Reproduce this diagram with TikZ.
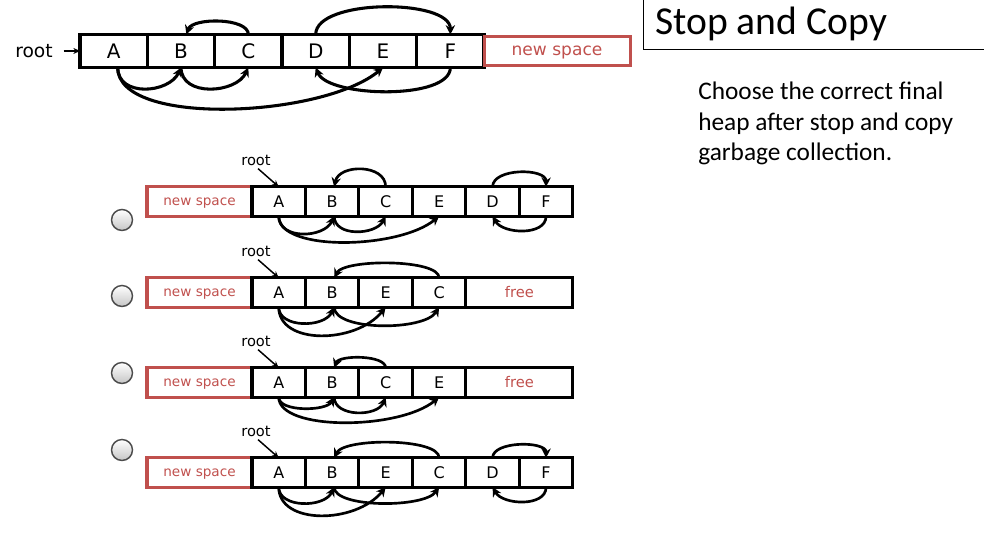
\documentclass[tikz,border=0pt]{standalone}
\usepackage{fontspec}
\setmainfont{Carlito}
\newfontfamily\cellfont{DejaVu Sans}
\usepackage{xcolor}
\usepackage{tikz}
\usetikzlibrary{shapes,arrows,arrows.meta,positioning,calc}
\definecolor{spacered}{RGB}{192,80,77}

\begin{document}
\begin{tikzpicture}[
    x=0.75pt, y=0.75pt,
    cell/.style={rectangle, draw, line width=2.3pt, outer sep=0pt, inner sep=0pt, minimum width=40.1pt, minimum height=22pt, font=\cellfont\fontsize{12}{14}\selectfont},
    bigcell/.style={cell, line width=2.6pt, minimum width=50.5pt, minimum height=24.75pt, font=\cellfont\fontsize{15}{17}\selectfont},
    spare/.style={cell, draw=spacered, text=spacered, text depth=0pt, minimum width=78.75pt, font=\cellfont\fontsize{10.2}{12}\selectfont},
    freecell/.style={cell, text=spacered, minimum width=80.2pt, font=\cellfont\fontsize{11}{13}\selectfont},
    ptr/.style={-{Stealth[length=7pt, width=7pt]}, line width=2pt},
    bigptr/.style={ptr, line width=2.3pt},
    rootlbl/.style={inner sep=1pt, font=\cellfont\fontsize{11}{13}\selectfont},
    rootptr/.style={-{Stealth[length=5pt, width=4.5pt]}, line width=1.1pt, shorten <=2pt},
    radio/.style={circle, draw=gray!60!black, line width=1.1pt, minimum size=15.75pt, top color=white, bottom color=gray!45}
]
    \useasboundingbox (0,0) rectangle (984,545);

    % Title and question
    \draw[line width=0.75pt] (643,545) -- (643,495) -- (984,495);
    \node[anchor=base west, inner sep=0pt, font=\fontsize{29.7}{34}\selectfont] (title) at (655,510) {Stop and Copy};
    \node[anchor=base west, inner sep=0pt, align=left, font=\fontsize{19}{22.9}\selectfont] (task) at (698,384) {
        Choose the correct final\\
        heap after stop and copy\\
        garbage collection.
    };

    % Heap before collection
    \node[bigcell] (heapA) at (113.7,494) {A};
    \node[bigcell, right=0pt of heapA] (heapB) {B};
    \node[bigcell, right=0pt of heapB] (heapC) {C};
    \node[bigcell, right=0pt of heapC] (heapD) {D};
    \node[bigcell, right=0pt of heapD] (heapE) {E};
    \node[bigcell, right=0pt of heapE] (heapF) {F};
    \node[bigcell, spare, minimum width=109.5pt, font=\cellfont\fontsize{12.8}{15}\selectfont, right=0pt of heapF] (heapNew) {new space};
    \node[rootlbl, font=\cellfont\fontsize{14}{16}\selectfont] (heaproot) at (34,494) {root};
    \draw[rootptr, shorten <=7pt, line width=1.3pt] (heaproot.east) -- (heapA.west);

    \draw[bigptr] (heapC.north) .. controls +(0,17) and +(6,17) .. ([xshift=4pt]heapB.north);
    \draw[bigptr] (heapD.north) .. controls +(0,36) and +(0,36) .. (heapF.north);
    \draw[bigptr] ([xshift=3pt]heapA.south) .. controls +(0,-30) and +(-12,-26) .. (heapB.south);
    \draw[bigptr] (heapB.south) .. controls +(0,-30) and +(-12,-26) .. (heapC.south);
    \draw[bigptr] ([xshift=3pt]heapA.south) .. controls +(0,-60) and +(-60,-50) .. (heapE.south);
    \draw[bigptr] (heapF.south) .. controls +(0,-33) and +(12,-30) .. (heapD.south);

    % Option 1
    \node[radio] (pick1) at (122,325) {};
    \node[spare] (o1New) at (199.5,343.5) {new space};
    \node[cell, right=0pt of o1New] (o1A) {A};
    \node[cell, right=0pt of o1A] (o1B) {B};
    \node[cell, right=0pt of o1B] (o1C) {C};
    \node[cell, right=0pt of o1C] (o1E) {E};
    \node[cell, right=0pt of o1E] (o1D) {D};
    \node[cell, right=0pt of o1D] (o1F) {F};
    \node[rootlbl] (rt1) at (256,385) {root};
    \draw[rootptr] (rt1.south) -- (o1A.north);

    \draw[ptr] (o1C.north) .. controls +(0,23) and +(5,23) .. ([xshift=1.5pt]o1B.north);
    \draw[ptr] (o1D.north) .. controls +(0,19) and +(0,19) .. (o1F.north);
    \draw[ptr] (o1A.south) .. controls +(0,-24) and +(-10,-22) .. ([xshift=1.5pt]o1B.south);
    \draw[ptr] ([xshift=1.5pt]o1B.south) .. controls +(0,-21) and +(-10,-19) .. (o1C.south);
    \draw[ptr] (o1A.south) .. controls +(0,-36) and +(-40,-33) .. (o1E.south);
    \draw[ptr] (o1F.south) .. controls +(0,-20) and +(10,-18) .. (o1D.south);

    % Option 2
    \node[radio] (pick2) at (122,249) {};
    \node[spare] (o2New) at (199.5,252.5) {new space};
    \node[cell, right=0pt of o2New] (o2A) {A};
    \node[cell, right=0pt of o2A] (o2B) {B};
    \node[cell, right=0pt of o2B] (o2E) {E};
    \node[cell, right=0pt of o2E] (o2C) {C};
    \node[freecell, right=0pt of o2C] (o2Free) {free};
    \node[rootlbl] (rt2) at (256,294) {root};
    \draw[rootptr] (rt2.south) -- (o2A.north);

    \draw[ptr] (o2C.north) .. controls +(0,19) and +(10,19) .. ([xshift=1.5pt]o2B.north);
    \draw[ptr] (o2A.south) .. controls +(0,-21) and +(-10,-21) .. ([xshift=1.5pt]o2B.south);
    \draw[ptr] ([xshift=1.5pt]o2B.south) .. controls +(0,-24) and +(-15,-24) .. (o2C.south);
    \draw[ptr] (o2A.south) .. controls +(0,-38) and +(-30,-37) .. (o2E.south);

    % Option 3
    \node[radio] (pick3) at (122,172) {};
    \node[spare] (o3New) at (199.5,162.5) {new space};
    \node[cell, right=0pt of o3New] (o3A) {A};
    \node[cell, right=0pt of o3A] (o3B) {B};
    \node[cell, right=0pt of o3B] (o3C) {C};
    \node[cell, right=0pt of o3C] (o3E) {E};
    \node[freecell, right=0pt of o3E] (o3Free) {free};
    \node[rootlbl] (rt3) at (256,204) {root};
    \draw[rootptr] (rt3.south) -- (o3A.north);

    \draw[ptr] (o3C.north) .. controls +(0,13) and +(5,13) .. ([xshift=1.5pt]o3B.north);
    \draw[ptr] (o3A.south) .. controls +(0,-15) and +(-8,-14) .. ([xshift=1.5pt]o3B.south);
    \draw[ptr] ([xshift=1.5pt]o3B.south) .. controls +(0,-20) and +(-8,-20) .. (o3C.south);
    \draw[ptr] (o3A.south) .. controls +(0,-34) and +(-40,-33) .. (o3E.south);

    % Option 4
    \node[radio] (pick4) at (122,95) {};
    \node[spare] (o4New) at (199.5,72.5) {new space};
    \node[cell, right=0pt of o4New] (o4A) {A};
    \node[cell, right=0pt of o4A] (o4B) {B};
    \node[cell, right=0pt of o4B] (o4E) {E};
    \node[cell, right=0pt of o4E] (o4C) {C};
    \node[cell, right=0pt of o4C] (o4D) {D};
    \node[cell, right=0pt of o4D] (o4F) {F};
    \node[rootlbl] (rt4) at (256,114) {root};
    \draw[rootptr] (rt4.south) -- (o4A.north);

    \draw[ptr] (o4C.north) .. controls +(0,20) and +(10,20) .. ([xshift=1.5pt]o4B.north);
    \draw[ptr] (o4D.north) .. controls +(0,17) and +(0,17) .. (o4F.north);
    \draw[ptr] (o4A.south) .. controls +(0,-21) and +(-10,-21) .. ([xshift=1.5pt]o4B.south);
    \draw[ptr] ([xshift=1.5pt]o4B.south) .. controls +(0,-21) and +(-15,-21) .. (o4C.south);
    \draw[ptr] (o4A.south) .. controls +(0,-38) and +(-30,-37) .. (o4E.south);
    \draw[ptr] (o4F.south) .. controls +(0,-20) and +(10,-18) .. (o4D.south);
\end{tikzpicture}
\end{document}
